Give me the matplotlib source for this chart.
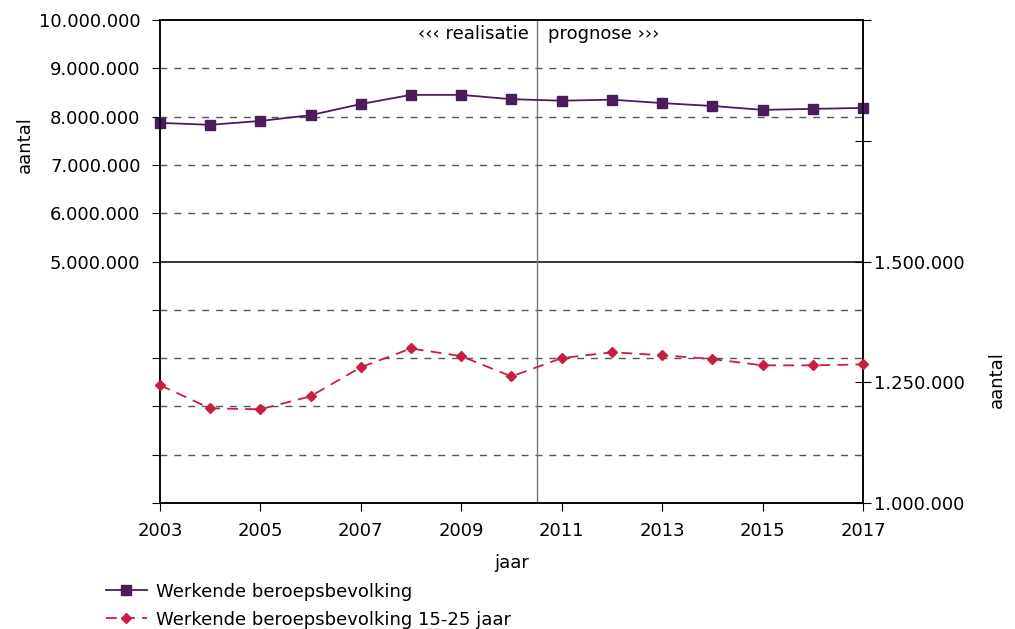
import matplotlib.pyplot as plt

years = [2003, 2004, 2005, 2006, 2007, 2008, 2009, 2010, 2011, 2012, 2013, 2014, 2015, 2016, 2017]
werkend = [7870000, 7830000, 7910000, 8030000, 8260000, 8450000, 8450000, 8360000,
           8330000, 8350000, 8280000, 8220000, 8140000, 8160000, 8180000]
jong = [1244000, 1196000, 1194000, 1221000, 1281000, 1320000, 1304000, 1262000,
        1300000, 1312000, 1306000, 1298000, 1285000, 1285000, 1287000]

left_ticks = [0, 1e6, 2e6, 3e6, 4e6, 5e6, 6e6, 7e6, 8e6, 9e6, 10e6]
right_ticks = [1.0e6, 1.25e6, 1.5e6, 1.75e6, 2.0e6]
x_ticks = [2003, 2005, 2007, 2009, 2011, 2013, 2015, 2017]

purple = '#4a1c5c'
red = '#c81e42'
fs = 13


def dots(v):
    return '{:,.0f}'.format(v).replace(',', '.')


fig = plt.figure(figsize=(10.15, 6.29), dpi=100)
ax = fig.add_axes([0.1576, 0.2003, 0.6926, 0.7679])
ax2 = ax.twinx()

ax.set_xlim(2003, 2017)
ax.set_ylim(0, 10e6)
ax2.set_ylim(1.0e6, 2.0e6)

# gridlines
for v in left_ticks[1:-1]:
    if v == 5e6:
        ax.axhline(v, color='black', lw=1.1, zorder=1)
    else:
        ax.axhline(v, color='#555555', lw=1, ls=(0, (5, 5)), zorder=1)
ax.axvline(2010.5, color='#777777', lw=1, zorder=1)

l1, = ax.plot(years, werkend, color=purple, lw=1.3, marker='s', ms=7.5,
              label='Werkende beroepsbevolking', zorder=3, clip_on=False)
l2, = ax2.plot(years, jong, color=red, lw=1.3, ls=(0, (6, 4)), marker='D', ms=5,
               label='Werkende beroepsbevolking 15-25 jaar', zorder=3, clip_on=False)

ax.set_yticks(left_ticks)
ax.set_yticklabels([dots(v) if v >= 5e6 else '' for v in left_ticks])
ax2.set_yticks(right_ticks)
ax2.set_yticklabels([dots(v) if v <= 1.5e6 else '' for v in right_ticks])
ax.set_xticks(x_ticks)

ax.tick_params(axis='both', direction='out', length=6, labelsize=fs, color='black')
ax.tick_params(axis='y', pad=8)
ax.tick_params(axis='x', pad=8)
ax2.tick_params(axis='y', direction='inout', length=12, labelsize=fs, pad=2)

for a in (ax, ax2):
    for s in a.spines.values():
        s.set_color('black')
        s.set_linewidth(1.1)

fig.text(25 / 1015, 1 - 145 / 629, 'aantal', rotation=90, ha='center', va='center', fontsize=fs)
fig.text(997 / 1015, 1 - 380 / 629, 'aantal', rotation=90, ha='center', va='center', fontsize=fs)
ax.set_xlabel('jaar', fontsize=fs, labelpad=10)

ax.text(2010.35, 9.7e6, '\u2039\u2039\u2039 realisatie', ha='right', va='center', fontsize=fs)
ax.text(2010.72, 9.7e6, 'prognose \u203a\u203a\u203a', ha='left', va='center', fontsize=fs)

fig.legend(handles=[l1, l2], loc='upper left', bbox_to_anchor=(0.097, 0.085),
           frameon=False, fontsize=fs, handlelength=2.3, labelspacing=0.55,
           handletextpad=0.5, borderaxespad=0)

fig.savefig('out.png', dpi=100)
